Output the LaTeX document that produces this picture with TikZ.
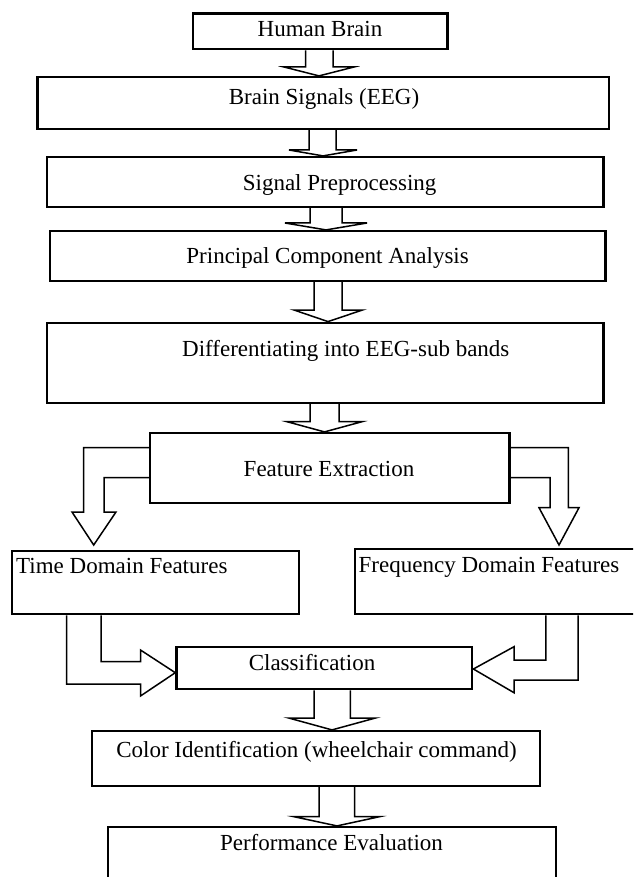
\documentclass[tikz,border=0pt]{standalone}
\usepackage{fontspec}
\setmainfont{Liberation Serif}

\begin{document}
\begin{tikzpicture}[
  x=1pt, y=-1pt,
  font=\fontsize{23}{27}\selectfont,
  box/.style={draw,line width=2.2pt,inner sep=0pt},
  lbl/.style={inner sep=0pt,anchor=base},
  lbll/.style={inner sep=0pt,anchor=base west},
  blockarrow/.style={draw,line width=1.5pt,line join=miter}
]
\useasboundingbox (0,0) rectangle (633,877);
\clip (0,0) rectangle (633,877);

\node[box,minimum width=254.5pt,minimum height=35.8pt] (brain) at (320.25,31.4) {};
\node[box,minimum width=571.5pt,minimum height=52pt] (eeg) at (323.25,103) {};
\node[box,minimum width=556.5pt,minimum height=50pt] (prep) at (325.25,182) {};
\node[box,minimum width=555.5pt,minimum height=50pt] (pca) at (327.75,256) {};
\node[box,minimum width=556.5pt,minimum height=80.3pt] (bands) at (325.25,362.85) {};
\node[box,minimum width=359.5pt,minimum height=69.7pt] (feat) at (329.75,467.85) {};
\node[box,minimum width=286.7pt,minimum height=63.6pt] (time) at (155.35,582.5) {};
\node[box,minimum width=290pt,minimum height=65.6pt] (freq) at (500,581.5) {};
\node[box,minimum width=295.9pt,minimum height=42.6pt] (cls) at (324.35,668) {};
\node[box,minimum width=448.2pt,minimum height=55pt] (color) at (315.7,758.5) {};
\node[box,minimum width=448pt,minimum height=73pt] (perf) at (332,863.5) {};

\node[lbl] (brain-t) at (320,36.7) {Human Brain};
\node[lbl] (eeg-t) at (324,104.3) {Brain Signals (EEG)};
\node[lbl] (prep-t) at (339.6,190.7) {Signal Preprocessing};
\node[lbl] (pca-t) at (327.6,263.3) {Principal Component Analysis};
\node[lbl] (bands-t) at (345.8,356) {Differentiating into EEG-sub bands};
\node[lbl] (feat-t) at (329,476.7) {Feature Extraction};
\node[lbll] (time-t) at (16,573.3) {Time Domain Features};
\node[lbll] (freq-t) at (358.5,572.7) {Frequency Domain Features};
\node[lbl] (cls-t) at (312,670) {Classification};
\node[lbl] (color-t) at (316.5,757.7) {Color Identification (wheelchair command)};
\node[lbl] (perf-t) at (331.5,850) {Performance Evaluation};

% straight block arrows
\draw[blockarrow] (305.6,0 |- brain.south) -- (305.6,67) -- (284,67)
  -- (319,0 |- eeg.north) -- (354,67) -- (333,67) -- (333,0 |- brain.south);
\draw[blockarrow] (309,0 |- eeg.south) -- (309,150) -- (289,150)
  -- (323,0 |- prep.north) -- (357,150) -- (336,150) -- (336,0 |- eeg.south);
\draw[blockarrow] (310,0 |- prep.south) -- (310,223) -- (285,223)
  -- (326,0 |- pca.north) -- (367,223) -- (342,223) -- (342,0 |- prep.south);
\draw[blockarrow] (314,0 |- pca.south) -- (314,310) -- (294,310)
  -- (328,0 |- bands.north) -- (362.5,310) -- (342,310) -- (342,0 |- pca.south);
\draw[blockarrow] (310,0 |- bands.south) -- (310,421.7) -- (287,421.7)
  -- (324.5,0 |- feat.north) -- (362,421.7) -- (339,421.7) -- (339,0 |- bands.south);
\draw[blockarrow] (314,0 |- cls.south) -- (314,718) -- (288.7,718)
  -- (332,0 |- color.north) -- (375.5,718) -- (350.4,718) -- (350.4,0 |- cls.south);
\draw[blockarrow] (319,0 |- color.south) -- (319,816.7) -- (294,816.7)
  -- (337,0 |- perf.north) -- (379.5,816.7) -- (354.5,816.7) -- (354.5,0 |- color.south);

% split
\draw[blockarrow] (feat.west |- 0,447.7) -- (83.6,447.7) -- (83.6,512) -- (72,512)
  -- (93.7,545) -- (116,512) -- (104,512) -- (104,477.7) -- (feat.west |- 0,477.7);
\draw[blockarrow] (feat.east |- 0,447.7) -- (568.4,447.7) -- (568.4,507.7) -- (579,507.7)
  -- (559,545) -- (539,507.7) -- (550,507.7) -- (550,477.7) -- (feat.east |- 0,477.7);

% merge
\draw[blockarrow] (66.6,0 |- time.south) -- (66.6,684) -- (140.5,684) -- (140.5,696)
  -- (cls.west |- 0,672.7) -- (140.5,650) -- (140.5,661.7) -- (101,661.7) -- (101,0 |- time.south);
\draw[blockarrow] (545.8,0 |- freq.south) -- (545.8,660) -- (514,660) -- (514,646.7)
  -- (cls.east |- 0,669) -- (514,692.7) -- (514,680) -- (578,680) -- (578,0 |- freq.south);

\end{tikzpicture}
\end{document}
